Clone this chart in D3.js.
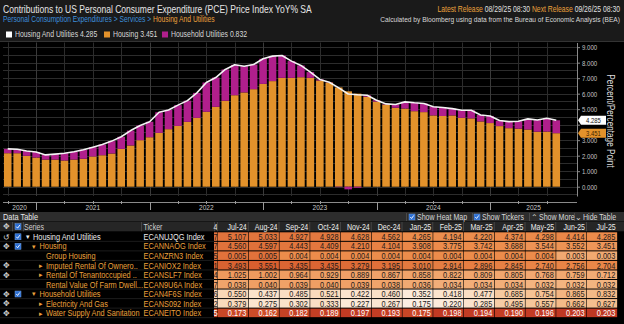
<!DOCTYPE html>
<html><head><meta charset="utf-8">
<script src="https://cdn.jsdelivr.net/npm/d3@7"></script>
<style>
html,body{margin:0;padding:0;background:#000;overflow:hidden}
svg{display:block}
text{font-family:"Liberation Sans",Arial,sans-serif}
</style>
</head><body>
<svg id="c" width="624" height="324"></svg>
<script>
// ---------------- DATA ----------------
const months = ["Sep-20","Oct-20","Nov-20","Dec-20",
"Jan-21","Feb-21","Mar-21","Apr-21","May-21","Jun-21","Jul-21","Aug-21","Sep-21","Oct-21","Nov-21","Dec-21",
"Jan-22","Feb-22","Mar-22","Apr-22","May-22","Jun-22","Jul-22","Aug-22","Sep-22","Oct-22","Nov-22","Dec-22",
"Jan-23","Feb-23","Mar-23","Apr-23","May-23","Jun-23","Jul-23","Aug-23","Sep-23","Oct-23","Nov-23","Dec-23",
"Jan-24","Feb-24","Mar-24","Apr-24","May-24","Jun-24","Jul-24","Aug-24","Sep-24","Oct-24","Nov-24","Dec-24",
"Jan-25","Feb-25","Mar-25","Apr-25","May-25","Jun-25","Jul-25"];
const housing = [2.16,2.16,1.99,1.88,
1.75,1.75,1.69,1.75,1.80,1.95,2.03,2.14,2.44,2.66,3.00,3.19,
3.47,3.71,3.92,4.18,4.44,4.83,5.15,5.54,5.90,6.08,6.29,6.63,
6.81,7.02,7.02,7.06,7.02,6.85,6.72,6.40,6.15,6.00,5.80,5.49,
5.30,5.09,5.04,4.87,4.81,4.597,4.560,4.597,4.443,4.409,4.210,4.104,
3.908,3.775,3.742,3.688,3.544,3.552,3.451];
const utilities = [0.28,0.26,0.31,0.36,
0.30,0.35,0.47,0.50,0.58,0.60,0.69,0.80,0.78,0.96,0.95,1.00,
1.33,1.24,1.34,1.37,1.61,1.89,1.89,2.02,1.96,1.69,1.59,1.62,
1.61,1.44,1.08,0.76,0.37,0.07,0.02,-0.03,-0.17,-0.07,0.10,0.09,
0.04,0.21,0.43,0.54,0.56,0.556,0.550,0.437,0.485,0.521,0.422,0.460,
0.352,0.418,0.477,0.685,0.754,0.865,0.832];
const total = [2.44,2.42,2.30,2.24,
2.05,2.10,2.16,2.25,2.38,2.55,2.72,2.94,3.22,3.62,3.95,4.19,
4.80,4.95,5.26,5.55,6.05,6.72,7.04,7.56,7.86,7.77,7.88,8.25,
8.42,8.46,8.10,7.82,7.39,6.92,6.74,6.37,5.98,5.93,5.90,5.58,
5.34,5.30,5.47,5.41,5.37,5.157,5.107,5.033,4.927,4.928,4.628,4.562,
4.265,4.194,4.220,4.374,4.298,4.414,4.285];
const yearLabels = ["2020","2021","2022","2023","2024","2025"];
const yTicks = [0,1,2,3,4,5,6,7,8,9];
const seriesNames = ["Housing And Utilities","Housing","Household Utilities"];
const lastValues = [4.285,3.451,0.832];

// table
const tableCols = ["Jul-24","Aug-24","Sep-24","Oct-24","Nov-24","Dec-24","Jan-25","Feb-25","Mar-25","Apr-25","May-25","Jun-25","Jul-25"];
const tableSeries = ["Housing And Utilities","Housing","Group Housing","Imputed Rental Of Ownero..","Rental Of Tenantoccupied ..","Rental Value Of Farm Dwell...","Household Utilities","Electricity And Gas","Water Supply And Sanitation"];
const tableTickers = ["ECANUJQG Index","ECANNAOG Index","ECANZRN3 Index","ECANIOX2 Index","ECANSLF7 Index","ECAN9U6A Index","ECAN4F6S Index","ECANS092 Index","ECANEITO Index"];
const rowHousingUtil = [5.107,5.033,4.927,4.928,4.628,4.562,4.265,4.194,4.220,4.374,4.298,4.414,4.285];
const rowHousing     = [4.560,4.597,4.443,4.409,4.210,4.104,3.908,3.775,3.742,3.688,3.544,3.552,3.451];
const rowGroup       = [0.005,0.005,0.004,0.004,0.004,0.004,0.004,0.004,0.004,0.004,0.004,0.003,0.003];
const rowImputed     = [3.493,3.551,3.435,3.435,3.279,3.195,3.010,2.914,2.896,2.845,2.740,2.756,2.704];
const rowTenant      = [1.025,1.002,0.964,0.929,0.889,0.867,0.858,0.822,0.809,0.805,0.768,0.759,0.712];
const rowFarm        = [0.038,0.040,0.039,0.040,0.039,0.038,0.036,0.034,0.034,0.034,0.032,0.032,0.032];
const rowUtil        = [0.550,0.437,0.485,0.521,0.422,0.460,0.352,0.418,0.477,0.685,0.754,0.865,0.832];
const rowElec        = [0.379,0.275,0.302,0.333,0.227,0.267,0.175,0.220,0.285,0.495,0.557,0.662,0.627];
const rowWater       = [0.173,0.162,0.182,0.189,0.197,0.193,0.175,0.198,0.194,0.190,0.196,0.203,0.203];
const tableRows = [rowHousingUtil,rowHousing,rowGroup,rowImputed,rowTenant,rowFarm,rowUtil,rowElec,rowWater];
const clippedDigits = ["4","7","7","5","1","4","7","6","2","5"]; // cut-off Jun-24 column
// ---------------- STYLE ----------------
const rowLevel = [0,1,2,2,2,2,1,2,2];
const rowMarker = ["▾","▾","","▸","▸","","▾","▸","▸"];
const rowIcon = ["↺","✥","","✥","✥","","✥","✥","✥"];
const rowCheck = [1,1,0,0,0,0,1,0,0];
const heatDomains = [[0.75,7.77],[0.5,7.0],[0.0,0.008],[0.4,4.8],[-0.7,3.2],[0.004,0.09],[0.26,2.16],[0.14,1.88],[-0.17,0.24]];
const C = {orange:"#e3922b", magenta:"#b01f8c", amber:"#eba13c", blue:"#3d8fdc", text:"#e2e2e2", grid:"#2c2c2c"};
const SX = 0.82;

const svg = d3.select("#c");
function txt(p, x, y, s, o={}) {
  const t = p.append("text")
    .attr("transform", `translate(${x},${y})${o.rotate?` rotate(${o.rotate})`:""} scale(${o.sx||SX},1)`)
    .attr("font-size", o.size||9).attr("fill", o.fill||C.text)
    .attr("text-anchor", o.anchor||"start").attr("dy","0.35em");
  if (o.weight) t.attr("font-weight", o.weight);
  if (s !== null) t.text(s);
  return t;
}
function checkbox(p, x, y) {
  p.append("rect").attr("x",x).attr("y",y-3).attr("width",6).attr("height",6).attr("fill","#2c6fd4").attr("stroke","#6f9fe0").attr("stroke-width",0.5);
  p.append("path").attr("d",`M${x+1.3},${y} L${x+2.6},${y+1.5} L${x+4.8},${y-1.6}`).attr("fill","none").attr("stroke","#fff").attr("stroke-width",0.9);
}

// backgrounds
svg.append("rect").attr("width",624).attr("height",324).attr("fill","#000");
svg.append("rect").attr("width",624).attr("height",41).attr("fill","#1a1a1a");
svg.append("line").attr("x1",0).attr("x2",624).attr("y1",41.5).attr("y2",41.5).attr("stroke","#333");

// header
txt(svg, 3, 9.5, "Contributions to US Personal Consumer Expenditure (PCE) Price Index YoY% SA", {size:10.4, fill:"#e6e6e6"});
const t2 = txt(svg, 3, 19.5, null, {size:8.2});
t2.append("tspan").attr("fill",C.blue).text("Personal Consumption Expenditures > Services > ");
t2.append("tspan").attr("fill",C.amber).text("Housing And Utilities");
const t3 = txt(svg, 620, 9.5, null, {size:8.3, anchor:"end"});
t3.append("tspan").attr("fill",C.amber).text("Latest Release ");
t3.append("tspan").attr("fill","#e0e0e0").text("08/29/25 08:30  ");
t3.append("tspan").attr("fill",C.amber).text("Next Release ");
t3.append("tspan").attr("fill","#e0e0e0").text("09/26/25 08:30");
txt(svg, 620, 19.5, "Calculated by Bloomberg using data from the Bureau of Economic Analysis (BEA)", {size:8.1, anchor:"end", fill:"#d8d8d8"});

// legend
const legColors = ["#ffffff", C.orange, C.magenta];
const legX = [6, 104, 162];
seriesNames.forEach((n,i)=>{
  svg.append("rect").attr("x",legX[i]).attr("y",31.5).attr("width",6).attr("height",6).attr("fill",legColors[i]);
  txt(svg, legX[i]+9, 34.5, n+" "+d3.format(".3f")(lastValues[i]), {size:8.4, fill:"#d8d8d8"});
});

// ---------------- CHART ----------------
const plotL = 3, plotR = 577, plotT = 42.5, plotB = 196;
const x = d3.scaleBand().domain(months).range([plotL, 561]).paddingInner(0.2).paddingOuter(0.1);
const cx = m => x(m) + x.bandwidth()/2;
const y = d3.scaleLinear().domain([-0.6, 9.3]).range([plotB, plotT]);

const g = svg.append("g");
g.selectAll("line.hg").data(y.ticks(20).filter(v=>v>-0.6)).join("line")
  .attr("x1",plotL).attr("x2",plotR).attr("y1",d=>Math.round(y(d))+0.5).attr("y2",d=>Math.round(y(d))+0.5)
  .attr("stroke",C.grid).attr("stroke-width",1);
const quarterMonths = months.filter(m=>/^(Mar|Jun|Sep|Dec)/.test(m));
g.selectAll("line.vg").data(quarterMonths).join("line")
  .attr("x1",d=>Math.round(cx(d))+0.5).attr("x2",d=>Math.round(cx(d))+0.5).attr("y1",plotT).attr("y2",plotB)
  .attr("stroke",d=>d.startsWith("Dec")?"#3a3a3a":C.grid).attr("stroke-width",1);

const data = months.map((m,i)=>({m, h:housing[i], u:utilities[i], t:total[i]}));
g.selectAll("rect.h").data(data).join("rect")
  .attr("x",d=>x(d.m)).attr("width",x.bandwidth())
  .attr("y",d=>y(Math.max(0,d.h))).attr("height",d=>Math.abs(y(d.h)-y(0)))
  .attr("fill",C.orange);
g.selectAll("rect.u").data(data).join("rect")
  .attr("x",d=>x(d.m)).attr("width",x.bandwidth())
  .attr("y",d=>d.u>=0 ? y(d.h+d.u) : y(0))
  .attr("height",d=>d.u>=0 ? y(d.h)-y(d.h+d.u) : y(d.u)-y(0))
  .attr("fill",C.magenta);
g.append("path").datum(data)
  .attr("d", d3.line().x(d=>cx(d.m)).y(d=>y(d.t)))
  .attr("fill","none").attr("stroke","#f4f4f4").attr("stroke-width",1.6).attr("stroke-linejoin","round");

// right axis
const ax = svg.append("g").attr("transform",`translate(${plotR},0)`)
  .call(d3.axisRight(y).tickValues(yTicks).tickFormat(d3.format(".3f")).tickSize(3).tickSizeOuter(0));
ax.select(".domain").attr("stroke","#8a8a8a");
ax.selectAll(".tick line").attr("stroke","#8a8a8a");
ax.selectAll(".tick text").attr("fill","#c4c4c4").attr("font-size",7.4)
  .attr("font-family","Liberation Sans, Arial, sans-serif")
  .attr("x",5/SX).attr("transform",`scale(${SX},1)`)
  // labels hidden underneath the last-value tags
  .style("display", d => lastValues.slice(0,2).some(v => Math.abs(y(v)-y(d)) < 6) ? "none" : null);

txt(svg, 611, 121, "Percent/Percentage Point", {size:10, anchor:"middle", rotate:90, fill:"#dcdcdc"});

function tag(v, fill, tfill) {
  const yy = y(v);
  svg.append("path").attr("d",`M${plotR+1},${yy} L${plotR+4},${yy-4.5} L${plotR+29},${yy-4.5} L${plotR+29},${yy+4.5} L${plotR+4},${yy+4.5} Z`)
    .attr("fill",fill);
  txt(svg, plotR+16.5, yy, d3.format(".3f")(v), {size:7.2, fill:tfill, anchor:"middle"});
}
tag(lastValues[1], C.orange, "#3a2200");
tag(lastValues[0], "#ffffff", "#111");

// x axis strip
const xa = svg.append("g");
xa.append("line").attr("x1",plotL).attr("x2",plotR).attr("y1",202.5).attr("y2",202.5).attr("stroke","#8a8a8a");
xa.selectAll("line.qt").data(quarterMonths).join("line")
  .attr("x1",d=>Math.round(cx(d))+0.5).attr("x2",d=>Math.round(cx(d))+0.5)
  .attr("y1",d=>d.startsWith("Dec")?202:201).attr("y2",d=>d.startsWith("Dec")?210:204)
  .attr("stroke","#9a9a9a");
const decs = months.filter(m=>m.startsWith("Dec"));
const bounds = [plotL, ...decs.map(cx), plotR];
yearLabels.forEach((yl,i)=>{
  txt(xa, (bounds[i]+bounds[i+1])/2, 207.5, yl, {size:8, fill:"#c8c8c8", anchor:"middle"});
});

// ---------------- DATA TABLE ----------------
svg.append("rect").attr("x",0).attr("y",212).attr("width",624).attr("height",9.5).attr("fill","#2d2d2d");
txt(svg, 3, 217, "Data Table", {size:9, fill:"#e8e8e8"});
[406,472,529,574].forEach(sx=>svg.append("line").attr("x1",sx+0.5).attr("x2",sx+0.5).attr("y1",213).attr("y2",221).attr("stroke","#4a4a4a"));
checkbox(svg, 409, 217);
txt(svg, 417, 217, "Show Heat Map", {size:8.6, fill:"#d8d8d8"});
checkbox(svg, 474, 217);
txt(svg, 482, 217, "Show Tickers", {size:8.6, fill:"#d8d8d8"});
txt(svg, 534, 217.5, "⌃", {size:8, fill:"#d8d8d8", anchor:"middle", sx:1});
txt(svg, 539, 217, "Show More", {size:8.6, fill:"#d8d8d8"});
txt(svg, 578, 217, "⌄", {size:8, fill:"#d8d8d8", anchor:"middle", sx:1});
txt(svg, 583, 217, "Hide Table", {size:8.6, fill:"#d8d8d8"});

const hdrY = 222, hdrH = 9.3, rowY0 = 232.3, rowH = 9.54;
const colX0 = 218, colW = 30.75;
svg.append("rect").attr("x",0).attr("y",hdrY).attr("width",624).attr("height",hdrH).attr("fill","#262626");
[12,23,141,214].forEach(sx=>svg.append("line").attr("x1",sx+0.5).attr("x2",sx+0.5).attr("y1",hdrY).attr("y2",hdrY+hdrH).attr("stroke","#444"));
txt(svg, 6.5, hdrY+hdrH/2, "✥", {size:8, fill:"#cfcfcf", anchor:"middle", sx:1});
checkbox(svg, 15, hdrY+hdrH/2);
txt(svg, 24, hdrY+hdrH/2, "Series", {size:8.6, fill:"#cfcfcf"});
txt(svg, 143.5, hdrY+hdrH/2, "Ticker", {size:8.6, fill:"#cfcfcf"});
txt(svg, 217.5, hdrY+hdrH/2, clippedDigits[0], {size:8.6, fill:"#e8e8e8", anchor:"end"});
tableCols.forEach((c,j)=>{
  const cx0 = colX0 + j*colW;
  svg.append("line").attr("x1",cx0-0.5).attr("x2",cx0-0.5).attr("y1",hdrY).attr("y2",hdrY+hdrH).attr("stroke","#444");
  txt(svg, cx0+colW-2, hdrY+hdrH/2, c, {size:8.6, fill:"#ececec", anchor:"end"});
});

const heatColor = d3.scaleLinear().domain([0,0.25,0.5,0.75,1])
  .range(["#fdf3ea","#f6c597","#ec8c4b","#d5582b","#b3261e"]).clamp(true);
tableRows.forEach((row,i)=>{
  const ry = rowY0 + i*rowH, mid = ry + rowH/2 - 0.3;
  svg.append("line").attr("x1",0).attr("x2",214).attr("y1",ry+rowH-0.5).attr("y2",ry+rowH-0.5).attr("stroke","#1c1c1c");
  const col = i===0 ? "#ececec" : C.amber;
  if (rowIcon[i]) txt(svg, 6.5, mid, rowIcon[i], {size:8, fill:"#cfcfcf", anchor:"middle", sx:1});
  if (rowCheck[i]) checkbox(svg, 15, mid);
  if (rowMarker[i]) txt(svg, 27.5 + 6.5*rowLevel[i], mid, rowMarker[i], {size:7, fill:col, anchor:"middle", sx:1});
  txt(svg, 33 + 6.5*rowLevel[i], mid, tableSeries[i], {size:9, fill:col});
  txt(svg, 143.5, mid, tableTickers[i], {size:9, fill:col});
  const dom = heatDomains[i];
  const tOf = v => (v-dom[0])/(dom[1]-dom[0]);
  svg.append("rect").attr("x",214).attr("y",ry).attr("width",3.5).attr("height",rowH-1).attr("fill",heatColor(tOf(row[0])));
  txt(svg, 217.5, mid, clippedDigits[i+1], {size:9, fill: tOf(row[0])>0.72?"#fff":"#1b1b1b", anchor:"end"});
  row.forEach((v,j)=>{
    const t = tOf(v);
    const cx0 = colX0 + j*colW;
    svg.append("rect").attr("x",cx0).attr("y",ry).attr("width",colW-0.6).attr("height",rowH-1).attr("fill",heatColor(t));
    txt(svg, cx0+colW-2.5, mid, d3.format(".3f")(v), {size:9, fill: t>0.72?"#ffffff":"#1b1b1b", anchor:"end"});
  });
});
</script>
</body></html>
